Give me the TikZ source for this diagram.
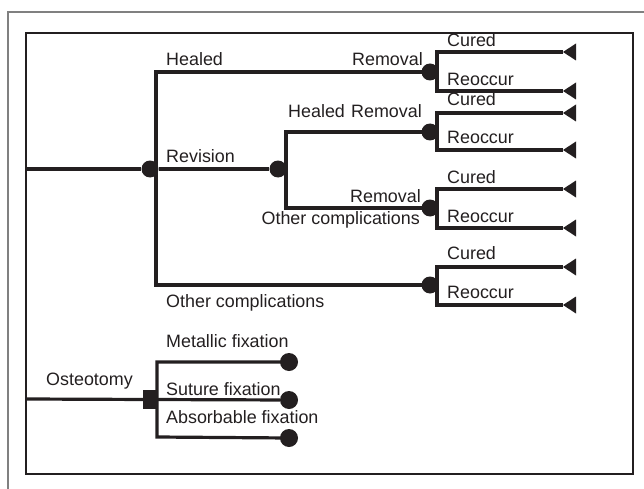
\documentclass[tikz,border=0pt]{standalone}
\usepackage{fontspec}
\setmainfont{Liberation Sans}
\definecolor{ink}{RGB}{35,31,32}
\begin{document}
\begin{tikzpicture}[x=1pt,y=-1pt,
  ln/.style={line width=3.2pt,draw=ink,line join=miter},
  chance/.style={circle,fill=ink,inner sep=0pt,minimum size=17pt},
  term/.style={circle,fill=ink,inner sep=0pt,minimum size=18pt},
  decision/.style={rectangle,fill=ink,inner sep=0pt,minimum width=15pt,minimum height=19pt},
  lbl/.style={inner sep=0pt,text=ink,font=\fontsize{17.9}{20}\selectfont},
  tri/.style={fill=ink}
]
\useasboundingbox (0,0) rectangle (644,489);
% frames
\draw[line width=1.5pt,black!50] (8,489) -- (8,12) -- (644,12);
\draw[line width=2.5pt,ink] (26,33) rectangle (633,474);

% nodes
\coordinate (root) at (26,169);
\node[chance] (n1) at (150,169) {};
\node[chance] (n2) at (278,169) {};
\node[chance] (c1) at (430,72) {};
\node[chance] (c2) at (430,132) {};
\node[chance] (c3) at (430,208) {};
\node[chance] (c4) at (430,285) {};

% terminal triangle apex coordinates
\foreach \n/\y in {a/52,b/91,c/113,d/150,e/189,f/228,g/267,h/305}{
  \coordinate (t\n) at (563,\y);
  \fill[tri] (t\n) -- ++(13,-8.5) -- ++(0,17) -- cycle;
}

% main tree
\draw[ln] (root) -- (n1);
\draw[ln] (n1) -- (n2);
\draw[ln] (c1.center) -- (156,72) -- (156,285) -- (c4.center);
\draw[ln] (c2.center) -- (286,132) -- (286,208) -- (c3.center);

% forks
\draw[ln] (ta) -- (437,52) -- (437,91) -- (tb);
\draw[ln] (tc) -- (437,113) -- (437,150) -- (td);
\draw[ln] (te) -- (437,189) -- (437,228) -- (tf);
\draw[ln] (tg) -- (437,267) -- (437,305) -- (th);
\draw[ln] (c1) -- (437,72);
\draw[ln] (c2) -- (437,132);
\draw[ln] (c3) -- (437,208);
\draw[ln] (c4) -- (437,285);

% osteotomy
\coordinate (root2) at (26,399);
\node[decision] (sq) at (150.5,399.5) {};
\node[term] (e1) at (289,362) {};
\node[term] (e2) at (289,400) {};
\node[term] (e3) at (289,438) {};
\draw[ln] (root2) -- (sq);
\draw[ln] (sq) -- (e2);
\draw[ln] (e1.center) -- (157,362) -- (157,437) -- (e3.center);

% labels
\node[lbl,anchor=base west] (lh1) at (166,66) {Healed};
\node[lbl,anchor=base east] (lr1) at (423,66) {Removal};
\node[lbl,anchor=base west] (lrev) at (166,163) {Revision};
\node[lbl,anchor=base west] (lh2) at (288,118) {Healed};
\node[lbl,anchor=base east] (lr2) at (422,118) {Removal};
\node[lbl,anchor=base east] (lr3) at (421,202) {Removal};
\node[lbl,anchor=base east] (loc1) at (420,224) {Other complications};
\node[lbl,anchor=base west] (loc2) at (166,307) {Other complications};

\node[lbl,anchor=base west] (cu1) at (447,47) {Cured};
\node[lbl,anchor=base west] (re1) at (447,86) {Reoccur};
\node[lbl,anchor=base west] (cu2) at (447,106) {Cured};
\node[lbl,anchor=base west] (re2) at (447,143) {Reoccur};
\node[lbl,anchor=base west] (cu3) at (447,183) {Cured};
\node[lbl,anchor=base west] (re3) at (447,222) {Reoccur};
\node[lbl,anchor=base west] (cu4) at (447,259) {Cured};
\node[lbl,anchor=base west] (re4) at (447,298) {Reoccur};

\node[lbl,anchor=base west] (lost) at (46,385) {Osteotomy};
\node[lbl,anchor=base west] (lmet) at (166,347) {Metallic fixation};
\node[lbl,anchor=base west] (lsut) at (166,395) {Suture fixation};
\node[lbl,anchor=base west] (labs) at (166,423) {Absorbable fixation};
\end{tikzpicture}
\end{document}
